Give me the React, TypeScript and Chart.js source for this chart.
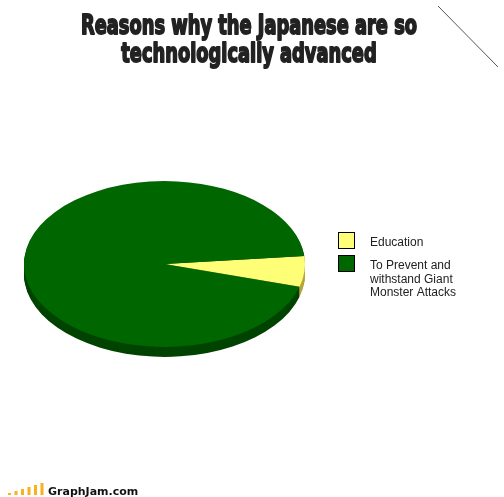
import React, { useEffect, useRef } from "react";
import { Chart, registerables } from "chart.js";

Chart.register(...registerables);

const titleLines = ["Reasons why the Japanese are so", "technologically advanced"];
const categories = [["Education"], ["To Prevent and", "withstand Giant", "Monster Attacks"]];
const values = [6, 94];
const topColors = ["#ffff77", "#006600"];
const sideColors = ["#b8a43a", "#004400"];
const sourceText = "GraphJam.com";

const W = 504;
const H = 497;
const ELLIPSE_K = 0.59;
const DEPTH = 10;

function arcCenter(chart: any) {
  const meta = chart.getDatasetMeta(0);
  const el = meta.data[0] as any;
  return { x: el.x, y: el.y };
}

const piePlugin = {
  id: "pie3d",
  beforeDatasetsDraw(chart: any) {
    const ctx = chart.ctx as CanvasRenderingContext2D;
    const meta = chart.getDatasetMeta(0);
    const { x: cx, y: cy } = arcCenter(chart);
    for (let d = DEPTH; d >= 1; d--) {
      ctx.save();
      ctx.translate(0, d);
      ctx.translate(cx, cy);
      ctx.scale(1, ELLIPSE_K);
      ctx.translate(-cx, -cy);
      meta.data.forEach((el: any, i: number) => {
        ctx.beginPath();
        ctx.moveTo(el.x, el.y);
        ctx.arc(el.x, el.y, el.outerRadius, el.startAngle, el.endAngle);
        ctx.closePath();
        ctx.fillStyle = sideColors[i];
        ctx.fill();
      });
      ctx.restore();
    }
    ctx.save();
    ctx.translate(cx, cy);
    ctx.scale(1, ELLIPSE_K);
    ctx.translate(-cx, -cy);
  },
  afterDatasetsDraw(chart: any) {
    chart.ctx.restore();
  },
  afterDraw(chart: any) {
    const ctx = chart.ctx as CanvasRenderingContext2D;
    // Title (condensed heavy face)
    ctx.save();
    ctx.fillStyle = "#222222";
    ctx.strokeStyle = "#222222";
    ctx.lineJoin = "round";
    ctx.lineWidth = 1.8;
    ctx.textBaseline = "alphabetic";
    ctx.textAlign = "left";
    ctx.font = "bold 27px 'Liberation Sans Narrow', 'DejaVu Sans Condensed', sans-serif";
    const w0 = ctx.measureText(titleLines[0]).width;
    const sx = 336 / w0;
    const baselines = [34, 62];
    titleLines.forEach((line, i) => {
      const w = ctx.measureText(line).width * sx;
      ctx.save();
      ctx.translate(249 - w / 2, baselines[i]);
      ctx.scale(sx, 1);
      ctx.fillText(line, 0, 0);
      ctx.strokeText(line, 0, 0);
      ctx.restore();
    });
    ctx.restore();

    // Legend
    ctx.save();
    const lx = 338;
    const boxTops = [232, 255];
    ctx.font = "12px 'Liberation Sans', Arial, sans-serif";
    ctx.textBaseline = "alphabetic";
    ctx.textAlign = "left";
    categories.forEach((lines, i) => {
      ctx.fillStyle = topColors[i];
      ctx.fillRect(lx, boxTops[i], 16, 16);
      ctx.strokeStyle = "#000";
      ctx.lineWidth = 1;
      ctx.strokeRect(lx + 0.5, boxTops[i] + 0.5, 16, 16);
      ctx.fillStyle = "#222";
      lines.forEach((t, j) => {
        ctx.fillText(t, 370, boxTops[i] + 14 + j * 13.5);
      });
    });
    ctx.restore();

    // Decorative diagonal line
    ctx.save();
    ctx.strokeStyle = "#555";
    ctx.lineWidth = 1;
    ctx.beginPath();
    ctx.moveTo(438, 6);
    ctx.lineTo(498, 67);
    ctx.stroke();
    ctx.restore();

    // Source logo
    ctx.save();
    const barHeights = [2, 4, 6, 8, 10, 12];
    ctx.fillStyle = "#f7b21c";
    barHeights.forEach((h, i) => {
      ctx.fillRect(8 + i * 6.5, 495 - h, 3, h);
    });
    ctx.fillStyle = "#111";
    ctx.font = "bold 11px 'DejaVu Sans', sans-serif";
    ctx.fillText(sourceText, 48, 495);
    ctx.restore();
  },
};

export default function App() {
  const ref = useRef<HTMLCanvasElement | null>(null);
  useEffect(() => {
    document.body.style.margin = "0";
    const canvas = ref.current!;
    const chart = new Chart(canvas, {
      type: "pie",
      data: {
        labels: categories,
        datasets: [
          {
            data: values,
            backgroundColor: topColors,
            borderWidth: 0,
            hoverOffset: 0,
          },
        ],
      },
      options: {
        responsive: false,
        animation: false,
        rotation: 84.4,
        events: [],
        layout: { padding: { left: 24, right: 199, top: 123.5, bottom: 92.5 } },
        plugins: {
          legend: { display: false },
          title: { display: false },
          tooltip: { enabled: false },
        },
      },
      plugins: [piePlugin],
    });
    return () => chart.destroy();
  }, []);
  return (
    <div style={{ position: "absolute", left: 0, top: 0, width: W, height: H, background: "#fff" }}>
      <canvas ref={ref} width={W} height={H} style={{ display: "block", width: W, height: H }} />
    </div>
  );
}
